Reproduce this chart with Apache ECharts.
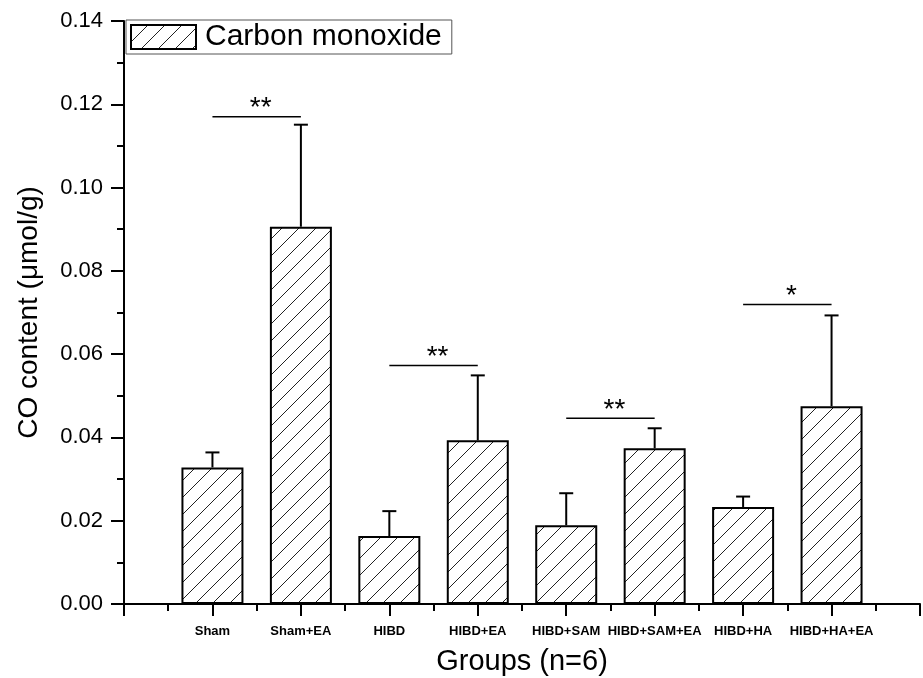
<!DOCTYPE html>
<html>
<head>
<meta charset="utf-8">
<style>
  *{margin: 0; padding: 0;}
  html, body{width: 100%; height: 100%; background: #fff;}
  #chart{width: 923px; height: 678px;}
</style>
<script src="https://cdn.jsdelivr.net/npm/echarts@6.0.0/dist/echarts.min.js"></script>
</head>
<body>
<div id="chart"></div>
<script>
// groups sit at x = 1..8 on a 0..9 value axis, like the original plot
var groups = ['Sham', 'Sham+EA', 'HIBD', 'HIBD+EA', 'HIBD+SAM', 'HIBD+SAM+EA', 'HIBD+HA', 'HIBD+HA+EA']
var means = [0.0328, 0.0906, 0.0163, 0.0393, 0.0189, 0.0374, 0.0233, 0.0475]
var errors = [0.0036, 0.0245, 0.0060, 0.0156, 0.0077, 0.0048, 0.0025, 0.0218]

// significance brackets: from group, to group, height, mark
var sigFrom = [1, 3, 5, 7]
var sigTo = [2, 4, 6, 8]
var sigLevel = [0.117, 0.0573, 0.0446, 0.0719]
var sigMarks = ['**', '**', '**', '*']

var yTicks = [0, 0.02, 0.04, 0.06, 0.08, 0.10, 0.12, 0.14]

var barData = []
var errData = []
for (var i = 0; i < groups.length; i++) {
  barData.push([i + 1, means[i]])
  errData.push([i + 1, means[i], errors[i]])
}
var sigData = []
for (var j = 0; j < sigFrom.length; j++) {
  sigData.push([sigFrom[j], sigTo[j], sigLevel[j], sigMarks[j]])
}

// hatch tile "/"
function makeHatch() {
  var s = 17
  var c = document.createElement('canvas')
  c.width = s
  c.height = s
  var ctx = c.getContext('2d')
  ctx.fillStyle = '#fff'
  ctx.fillRect(0, 0, s, s)
  ctx.strokeStyle = '#222'
  ctx.lineWidth = 1
  ctx.beginPath()
  ctx.moveTo(-2, s + 2)
  ctx.lineTo(s + 2, -2)
  ctx.moveTo(-2, 2)
  ctx.lineTo(2, -2)
  ctx.moveTo(s - 2, s + 2)
  ctx.lineTo(s + 2, s - 2)
  ctx.stroke()
  return c
}
var hatch = { image: makeHatch(), repeat: 'repeat' }

var font = 'Liberation Sans, Arial, sans-serif'
var chart = echarts.init(document.getElementById('chart'))

var options = {
  animation: false,
  backgroundColor: '#fff',
  textStyle: { fontFamily: font, color: '#000' },
  grid: { left: 124, right: 3, top: 21, bottom: 74, outerBoundsMode: 'none', containLabel: false },
  legend: {
    left: 126,
    top: 20,
    padding: [2, 10, 2, 4],
    borderColor: '#555',
    borderWidth: 1,
    icon: 'rect',
    itemWidth: 65,
    itemHeight: 24,
    itemGap: 8,
    textStyle: { fontSize: 30, color: '#000', fontFamily: font, padding: [0, 0, 0, 4] },
    data: ['Carbon monoxide']
  },
  xAxis: {
    type: 'value',
    min: 0,
    max: 9,
    interval: 1,
    name: 'Groups (n=6)',
    nameLocation: 'middle',
    nameGap: 43,
    nameTextStyle: { fontSize: 29, color: '#000', fontFamily: font },
    axisLine: { lineStyle: { color: '#000', width: 2 } },
    axisTick: { show: true, length: 12, lineStyle: { color: '#000', width: 2 } },
    minorTick: { show: true, splitNumber: 2, length: 7, lineStyle: { color: '#000', width: 2 } },
    splitLine: { show: false },
    axisLabel: {
      margin: 21,
      fontSize: 13,
      fontWeight: 'bold',
      color: '#000',
      fontFamily: font,
      formatter: function(v) {
        return groups[v - 1] || ''
      }
    }
  },
  yAxis: {
    type: 'value',
    min: yTicks[0],
    max: yTicks[yTicks.length - 1],
    interval: 0.02,
    name: 'CO content (\u03bcmol/g)',
    nameLocation: 'middle',
    nameGap: 81,
    nameTextStyle: { fontSize: 28, color: '#000', fontFamily: font },
    axisLine: { show: true, lineStyle: { color: '#000', width: 2 } },
    axisTick: { show: true, length: 13, lineStyle: { color: '#000', width: 2 } },
    minorTick: { show: true, splitNumber: 2, length: 7, lineStyle: { color: '#000', width: 2 } },
    splitLine: { show: false },
    axisLabel: {
      margin: 21,
      fontSize: 22,
      color: '#000',
      fontFamily: font,
      formatter: function(v) { return v.toFixed(2) }
    }
  },
  series: [
    {
      name: 'Carbon monoxide',
      type: 'bar',
      barWidth: 62,
      data: barData,
      itemStyle: { color: hatch, borderColor: '#000', borderWidth: 2 },
      z: 2
    },
    {
      // error bars (upper only)
      type: 'custom',
      data: errData,
      z: 3,
      renderItem: function(params, api) {
        var x = api.value(0)
        var m = api.value(1)
        var e = api.value(2)
        var base = api.coord([x, m])
        var top = api.coord([x, m + e])
        var st = { stroke: '#000', lineWidth: 2 }
        return {
          type: 'group',
          children: [
            { type: 'line', shape: { x1: base[0], y1: base[1], x2: top[0], y2: top[1] }, style: st },
            { type: 'line', shape: { x1: top[0] - 7, y1: top[1], x2: top[0] + 7, y2: top[1] }, style: st }
          ]
        }
      }
    },
    {
      // significance brackets
      type: 'custom',
      data: sigData,
      z: 3,
      renderItem: function(params, api) {
        var a = api.coord([api.value(0), api.value(2)])
        var b = api.coord([api.value(1), api.value(2)])
        var mark = sigData[params.dataIndex][3]
        return {
          type: 'group',
          children: [
            { type: 'line', shape: { x1: a[0], y1: a[1], x2: b[0], y2: b[1] }, style: { stroke: '#000', lineWidth: 1.5 } },
            {
              type: 'text',
              x: (a[0] + b[0]) / 2 + 4,
              y: a[1] + 6,
              style: { text: mark, fontSize: 28, fontFamily: font, fill: '#000', align: 'center', verticalAlign: 'bottom' }
            }
          ]
        }
      }
    }
  ]
}
chart.setOption(options)
window.addEventListener('resize', () => {
  chart.resize()
}, false)
</script>
</body>
</html>
